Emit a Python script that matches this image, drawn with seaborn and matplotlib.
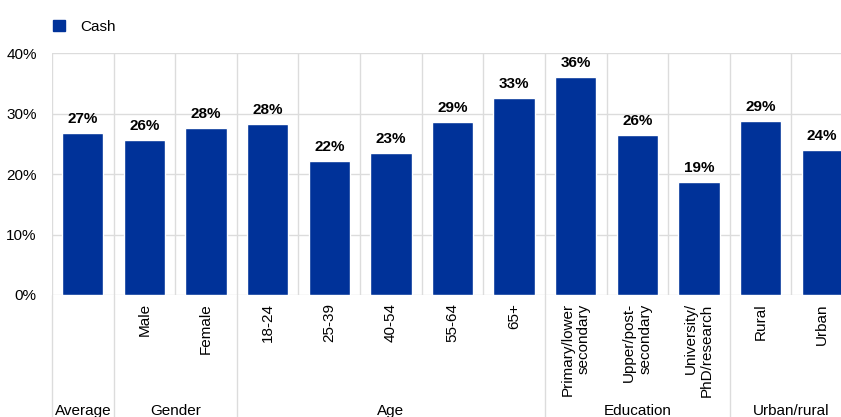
import matplotlib
matplotlib.use("Agg")
import matplotlib.pyplot as plt
import seaborn as sns
import pandas as pd
from matplotlib.patches import Patch
from matplotlib.ticker import FuncFormatter, FixedLocator

##Data
categories = ["Average", "Male", "Female", "18-24", "25-39", "40-54", "55-64", "65+",
              "Primary/lower\nsecondary", "Upper/post-\nsecondary", "University/\nPhD/research",
              "Rural", "Urban"]
tick_labels = [""] + categories[1:]
cash = [26.8, 25.6, 27.6, 28.3, 22.1, 23.4, 28.6, 32.6, 36.0, 26.4, 18.7, 28.8, 24.0]
groups = ["Average", "Gender", "Age", "Education", "Urban/rural"]
group_sizes = [1, 2, 5, 3, 2]
yticks = [0, 10, 20, 30, 40]

blue = "#003299"
grid_col = "#dcdcdc"

sns.set_style("white")
plt.rcParams["font.family"] = ["Liberation Sans", "DejaVu Sans"]
plt.rcParams["text.color"] = "black"

df = pd.DataFrame({"category": categories, "cash": cash})

fig = plt.figure(figsize=(8.41, 4.17), dpi=100)
ax = fig.add_axes([52 / 841, 122 / 417, 801 / 841, 242 / 417])

sns.barplot(data=df, x="category", y="cash", color=blue, width=0.67,
            saturation=1, ax=ax, zorder=3)

ax.set_ylim(0, 40)
ax.set_xlim(-0.5, len(categories) - 0.5)
ax.yaxis.set_major_locator(FixedLocator(yticks))
ax.yaxis.set_major_formatter(FuncFormatter(lambda v, p: f"{v:.0f}%"))
ax.set_xticks(range(len(categories)))
ax.set_xticklabels(tick_labels, rotation=90, ha="center", va="top", ma="right")
ax.set_xticks([i - 0.5 for i in range(len(categories) + 1)], minor=True)
ax.tick_params(axis="both", which="both", length=0, labelsize=11, colors="black")
ax.tick_params(axis="y", pad=11)
ax.tick_params(axis="x", pad=6)
ax.set_xlabel("")
ax.set_ylabel("")

ax.grid(axis="y", which="major", color=grid_col, lw=1, zorder=0)
ax.grid(axis="x", which="minor", color=grid_col, lw=1, zorder=0)
ax.grid(axis="x", which="major", visible=False)
for s in ax.spines.values():
    s.set_visible(False)

# value labels
ax.bar_label(ax.containers[0], labels=[f"{round(v)}%" for v in cash],
             padding=5, fontsize=11, fontweight="bold", color="black")

# group separators and group names below the axis
trans = ax.get_xaxis_transform()
start = -0.5
bounds = [start]
for g, n in zip(groups, group_sizes):
    ax.text(start + n / 2, -0.48, g, transform=trans, ha="center", va="center",
            fontsize=11, color="black")
    start += n
    bounds.append(start)
for b in bounds:
    ax.plot([b, b], [0, -0.6], transform=trans, color=grid_col, lw=1, clip_on=False)

# legend
fig.legend(handles=[Patch(color=blue)], labels=["Cash"], loc="upper left",
           bbox_to_anchor=(0.047, 0.985), frameon=False, fontsize=11,
           handlelength=0.75, handleheight=0.75, handletextpad=1.0)

fig.savefig("out.png", dpi=100)
